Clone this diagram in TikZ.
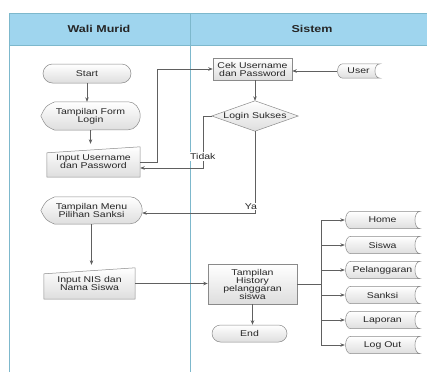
\documentclass[tikz,border=0pt]{standalone}
\usepackage{fontspec}
\newfontfamily\lab[FakeStretch=1.25]{Liberation Sans}
\usetikzlibrary{arrows.meta,calc}
\pgfdeclarelayer{bg}
\pgfsetlayers{bg,main}
\definecolor{hdr}{HTML}{9FD5EE}
\definecolor{lane}{HTML}{7DB8CC}
\definecolor{edgec}{HTML}{8A8A8A}
\definecolor{conn}{HTML}{606060}
\tikzset{
 txt/.style={inner sep=0pt, align=center, font=\lab\fontsize{8.4}{8}\selectfont, text=black!85},
 fillshade/.style={top color=white, bottom color=black!13, draw=edgec, line width=0.5pt},
 term/.style={txt, fillshade},
 proc/.style={txt, fillshade},
 arr/.style={draw=conn, line width=0.6pt, -{Stealth[length=4.5pt,width=3.5pt]}},
 ln/.style={draw=conn, line width=0.6pt},
 lbl/.style={txt, fill=white, inner sep=1pt},
 hdrtxt/.style={font=\lab\bfseries\fontsize{10}{12}\selectfont, text=black!85},
 laneline/.style={draw=lane, line width=0.7pt},
}
\newcommand\myDisp[2]{\path[fillshade] (#1.west) .. controls ([xshift=5pt,yshift=-4pt]#1.north west) .. ([xshift=14pt]#1.north west) -- ([xshift=-12pt]#1.north east) arc[start angle=90,end angle=-90,x radius=12pt,y radius=#2] -- ([xshift=14pt]#1.south west) .. controls ([xshift=5pt,yshift=4pt]#1.south west) .. (#1.west) -- cycle;}
\newcommand\myManual[1]{\path[fillshade] (#1.south west) -- ([yshift=-6pt]#1.north west) -- (#1.north east) -- (#1.south east) -- cycle;}
\newcommand\myStored[1]{\path[fillshade] ([xshift=6pt]#1.north west) -- (#1.north east) .. controls ([xshift=-7pt]#1.north east) and ([xshift=-7pt]#1.south east) .. (#1.south east) -- ([xshift=6pt]#1.south west) .. controls ([xshift=-1pt]#1.south west) and ([xshift=-1pt]#1.north west) .. ([xshift=6pt]#1.north west) -- cycle;}
\newcommand\myDiamond[1]{\path[fillshade] (#1.west) -- (#1.north) -- (#1.east) -- (#1.south) -- cycle;}
\begin{document}
\begin{tikzpicture}[x=1pt,y=-1pt]
\useasboundingbox (0,0) rectangle (427,372);
% swimlanes
\fill[hdr] (9,13) rectangle (427,45);
\draw[laneline] (9,372) -- (9,13) -- (427,13);
\draw[laneline] (9,45) -- (427,45);
\draw[laneline] (190,13) -- (190,372);
\node[hdrtxt] (h1) at (99,29) {Wali Murid};
\node[hdrtxt] (h2) at (312,29) {Sistem};
% nodes
\node[term, rounded corners=9.5pt, minimum width=88pt, minimum height=19pt] (start) at (87,73.5) {Start};
\node[txt, minimum width=99pt, minimum height=28pt] (form) at (90.5,116) {Tampilan Form\\Login};
\node[txt, minimum width=93pt, minimum height=30pt] (inp1) at (93.5,162) {Input Username\\dan Password};
\node[proc, minimum width=79pt, minimum height=22pt] (cek) at (252.5,69) {Cek Username\\dan Password};
\node[txt, minimum width=43pt, minimum height=14pt] (user) at (358.5,71) {User};
\node[txt, minimum width=86pt, minimum height=30pt] (dia) at (255,116) {Login Sukses};
\node[txt, minimum width=101pt, minimum height=27pt] (menu) at (91.5,210.5) {Tampilan Menu\\Pilihan Sanksi};
\node[txt, minimum width=91pt, minimum height=31pt] (inp2) at (89.5,283.5) {Input NIS dan\\Nama Siswa};
\node[proc, minimum width=89pt, minimum height=40pt] (hist) at (252.5,284) {Tampilan\\History\\pelanggaran\\siswa};
\node[term, rounded corners=8.5pt, minimum width=75pt, minimum height=17pt] (end) at (249.5,333.5) {End};
\node[txt, minimum width=75pt, minimum height=17pt] (b1) at (382.5,220) {Home};
\node[txt, minimum width=75pt, minimum height=17pt] (b2) at (382.5,245) {Siswa};
\node[txt, minimum width=75pt, minimum height=17pt] (b3) at (382.5,270) {Pelanggaran};
\node[txt, minimum width=75pt, minimum height=17pt] (b4) at (382.5,295) {Sanksi};
\node[txt, minimum width=75pt, minimum height=17pt] (b5) at (382.5,320) {Laporan};
\node[txt, minimum width=75pt, minimum height=17pt] (b6) at (382.5,345) {Log Out};
% shapes behind text
\begin{pgfonlayer}{bg}
\myDisp{form}{14pt}
\myDisp{menu}{13.5pt}
\myManual{inp1}
\myManual{inp2}
\myDiamond{dia}
\myStored{user}
\foreach \b in {b1,b2,b3,b4,b5,b6} {\myStored{\b}}
\end{pgfonlayer}
% connectors
\draw[arr] (start.south) -- (start.south |- form.north);
\draw[arr, shorten >=3pt] (form.south) -- (form.south |- inp1.north);
\draw[arr] (inp1.east) -- ++(17,0) |- (cek.west);
\draw[arr] (user.west) -- (user.west -| cek.east);
\draw[arr] (dia.north |- cek.south) -- (dia.north);
\draw[arr] (dia.west) -- ++(-9,0) |- ([yshift=-6pt]inp1.east) node[lbl, pos=0.39] {Tidak};
\draw[arr] (dia.south) |- ([yshift=-2.5pt]menu.east) node[lbl, pos=0.46, xshift=-4pt] {Ya};
\draw[arr, shorten >=3pt] (menu.south) -- (menu.south |- inp2.north);
\draw[arr] (inp2.east) -- (inp2.east -| hist.west);
\draw[arr] (hist.south) -- (hist.south |- end.north);
\coordinate (bus) at (321,284);
\draw[ln] (hist.east) -- (bus);
\foreach \b in {b1,b2,b3,b4,b5,b6} {\draw[arr] (bus) |- (\b.west);}
\end{tikzpicture}
\end{document}
